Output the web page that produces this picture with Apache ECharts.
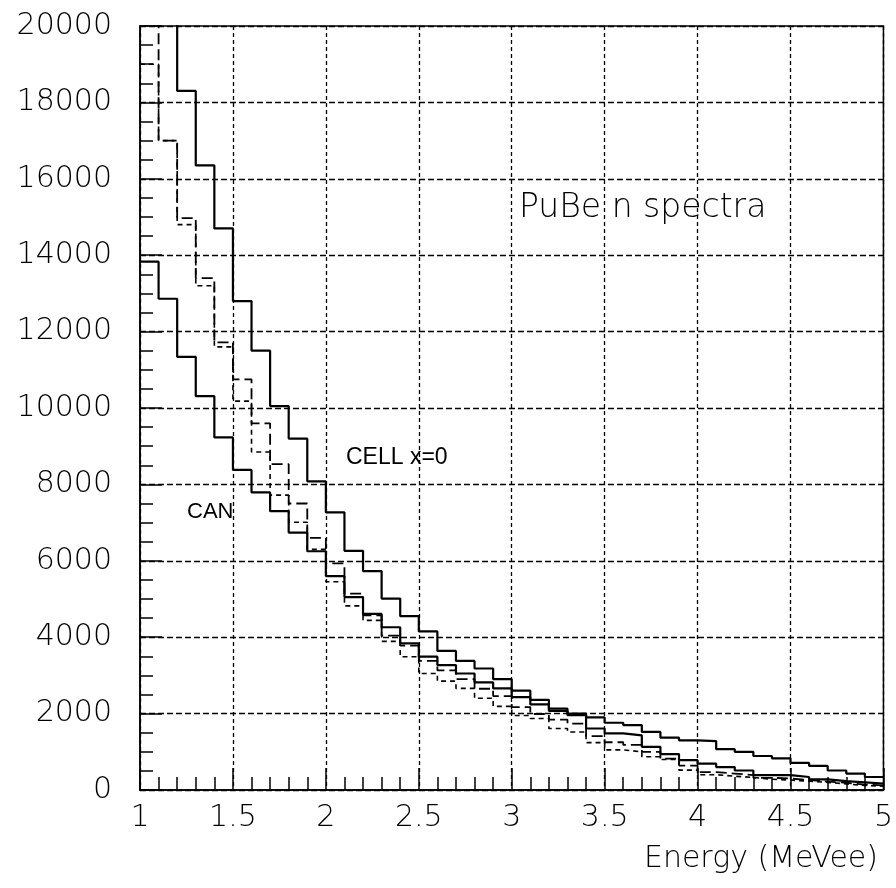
<!DOCTYPE html>
<html>
<head>
<meta charset="utf-8">
<script src="https://cdn.jsdelivr.net/npm/echarts@6/dist/echarts.min.js"></script>
<style>
  html, body { margin: 0; padding: 0; background: #fff; }
  #chart { width: 896px; height: 888px; }
</style>
</head>
<body>
<div id="chart"></div>
<script>
// bin left edges (bin width 0.1 MeVee), last entry closes the final bin
var binEdges = [1.0, 1.1, 1.2, 1.3, 1.4, 1.5, 1.6, 1.7, 1.8, 1.9,
                2.0, 2.1, 2.2, 2.3, 2.4, 2.5, 2.6, 2.7, 2.8, 2.9,
                3.0, 3.1, 3.2, 3.3, 3.4, 3.5, 3.6, 3.7, 3.8, 3.9,
                4.0, 4.1, 4.2, 4.3, 4.4, 4.5, 4.6, 4.7, 4.8, 4.9, 5.0];

// CELL x=0 (upper solid)
var cellCounts = [25000, 21500, 18300, 16350, 14700, 12800, 11500, 10050, 9200, 8080,
                  7270, 6260, 5730, 5010, 4550, 4150, 3640, 3380, 3180, 2900,
                  2600, 2360, 2130, 2000, 1900, 1760, 1700, 1520, 1370, 1300,
                  1280, 1070, 1000, 890, 830, 710, 630, 510, 430, 340];

// CAN (lower solid)
var canCounts = [13830, 12860, 11340, 10310, 9230, 8380, 7790, 7300, 6740, 6250,
                 5600, 5050, 4610, 4260, 3840, 3490, 3270, 3050, 2820, 2660,
                 2430, 2240, 2070, 1960, 1610, 1480, 1430, 1130, 940, 780,
                 690, 600, 510, 390, 390, 340, 280, 230, 200, 170];

// long dashed
var dashACounts = [21000, 17000, 14970, 13400, 11720, 10750, 9600, 8530, 7500, 6600,
                   5930, 5140, 4570, 4040, 3780, 3380, 3130, 2900, 2650, 2460,
                   2170, 1990, 1840, 1740, 1410, 1250, 1180, 1000, 820, 640,
                   470, 430, 390, 320, 300, 260, 220, 190, 140, 120];

// short dashed
var dashBCounts = [19000, 17000, 14800, 13200, 11600, 10180, 8850, 7720, 7010, 6300,
                   5450, 4820, 4440, 3890, 3490, 3050, 2850, 2660, 2400, 2190,
                   1950, 1870, 1610, 1520, 1240, 1050, 1000, 870, 800, 520,
                   400, 360, 330, 280, 260, 230, 200, 160, 120, 100];

function histPoints(counts) {
  var pts = [];
  for (var i = 0; i < counts.length; i++) {
    pts.push([binEdges[i], counts[i]]);
  }
  pts.push([binEdges[counts.length], counts[counts.length - 1]]);
  return pts;
}

var labelFont = 'DejaVu Sans';

var chart = echarts.init(document.getElementById('chart'));
chart.setOption({
  animation: false,
  backgroundColor: '#fff',
  grid: {
    left: 140, right: 8, top: 26, bottom: 98,
    show: true, borderColor: '#000', borderWidth: 1.5
  },
  xAxis: {
    type: 'value', min: 1, max: 5, interval: 0.5,
    axisLine: { onZero: false, lineStyle: { color: '#000', width: 1.5 } },
    axisTick: { inside: true, length: 22, lineStyle: { color: '#000', width: 1.5 } },
    minorTick: { show: true, splitNumber: 5, length: 13, lineStyle: { color: '#000', width: 1.5 } },
    splitLine: { show: true, lineStyle: { color: '#000', type: [4, 3], width: 1.3 } },
    axisLabel: {
      color: '#000', fontFamily: labelFont, fontWeight: 200, fontSize: 30, margin: 13,
      formatter: function (v) { return String(v); }
    }
  },
  yAxis: {
    type: 'value', min: 0, max: 20000, interval: 2000,
    axisLine: { show: true, lineStyle: { color: '#000', width: 1.5 } },
    axisTick: { show: true, inside: true, length: 22, lineStyle: { color: '#000', width: 1.5 } },
    minorTick: { show: true, splitNumber: 4, length: 13, lineStyle: { color: '#000', width: 1.5 } },
    splitLine: { show: true, lineStyle: { color: '#000', type: [6, 3], width: 1.3 } },
    axisLabel: {
      color: '#000', fontFamily: labelFont, fontWeight: 200, fontSize: 30, margin: 28,
      formatter: function (v) { return String(v); }
    }
  },
  series: [
    {
      name: 'CELL x=0', type: 'line', step: 'end', symbol: 'none', clip: true,
      data: histPoints(cellCounts),
      lineStyle: { color: '#000', width: 2.2 }
    },
    {
      name: 'CAN', type: 'line', step: 'end', symbol: 'none', clip: true,
      data: histPoints(canCounts),
      lineStyle: { color: '#000', width: 2.2 }
    },
    {
      name: 'long dashed', type: 'line', step: 'end', symbol: 'none', clip: true,
      data: histPoints(dashACounts),
      lineStyle: { color: '#000', width: 1.8, type: [11, 5] }
    },
    {
      name: 'short dashed', type: 'line', step: 'end', symbol: 'none', clip: true,
      data: histPoints(dashBCounts),
      lineStyle: { color: '#000', width: 1.6, type: [5, 4] }
    }
  ],
  graphic: [
    {
      type: 'text', left: 519, top: 192,
      style: { text: 'PuBe n spectra', fill: '#000', font: '200 33px "DejaVu Sans"' }
    },
    {
      type: 'text', left: 346, top: 446,
      style: { text: 'CELL x=0', fill: '#000', font: '23px "Liberation Sans Narrow", "Liberation Sans", sans-serif' }
    },
    {
      type: 'text', left: 187, top: 501,
      style: { text: 'CAN', fill: '#000', font: '22px "Liberation Sans Narrow", "Liberation Sans", sans-serif' }
    },
    {
      type: 'text', right: 18, top: 844,
      style: { text: 'Energy (MeVee)', fill: '#000', font: '200 30px "DejaVu Sans"' }
    }
  ]
});
</script>
</body>
</html>
